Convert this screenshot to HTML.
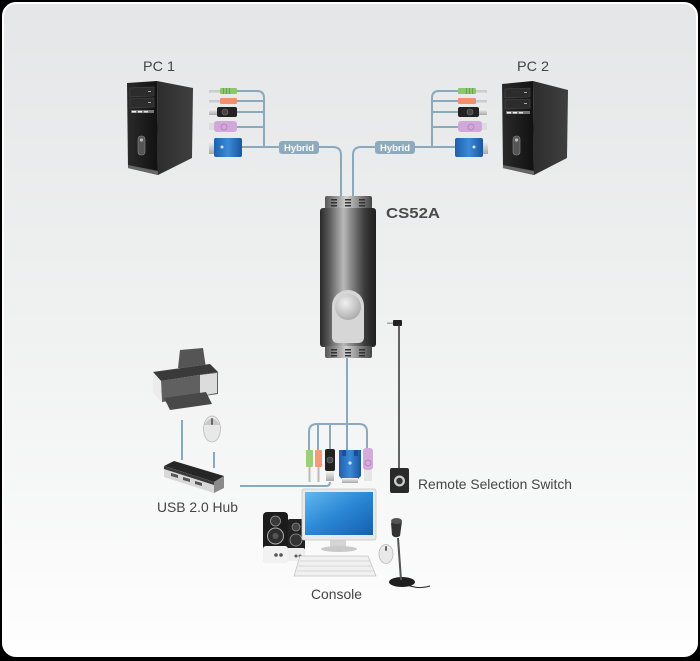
<!DOCTYPE html>
<html><head><meta charset="utf-8"><style>
html,body{margin:0;padding:0;background:#000;}
svg{display:block;}
text{font-family:"Liberation Sans",sans-serif;}
</style></head><body>
<svg width="700" height="661" viewBox="0 0 700 661" xmlns="http://www.w3.org/2000/svg">
<defs>
<linearGradient id="bg" x1="0" y1="0" x2="0" y2="1">
<stop offset="0" stop-color="#e5e6e7"/><stop offset="0.5" stop-color="#f0f1f1"/><stop offset="1" stop-color="#fefefe"/>
</linearGradient>
<linearGradient id="dev" x1="0" y1="0" x2="1" y2="0">
<stop offset="0" stop-color="#2a2a2a"/><stop offset="0.15" stop-color="#555"/><stop offset="0.42" stop-color="#b9b9b9"/><stop offset="0.55" stop-color="#8a8a8a"/><stop offset="0.8" stop-color="#3a3a3a"/><stop offset="1" stop-color="#1e1e1e"/>
</linearGradient>
<linearGradient id="cap" x1="0" y1="0" x2="1" y2="0">
<stop offset="0" stop-color="#555"/><stop offset="0.45" stop-color="#cfcfcf"/><stop offset="1" stop-color="#444"/>
</linearGradient>
<radialGradient id="btn" cx="0.4" cy="0.35" r="0.7">
<stop offset="0" stop-color="#f0f0f0"/><stop offset="1" stop-color="#a9a9a9"/>
</radialGradient>
<linearGradient id="front" x1="0" y1="0" x2="1" y2="0">
<stop offset="0" stop-color="#2a2a2a"/><stop offset="1" stop-color="#111"/>
</linearGradient>
<linearGradient id="side" x1="0" y1="0" x2="1" y2="0">
<stop offset="0" stop-color="#2d2d2d"/><stop offset="1" stop-color="#3f3f3f"/>
</linearGradient>
<linearGradient id="scr" x1="0" y1="0" x2="1" y2="1">
<stop offset="0" stop-color="#63b8ee"/><stop offset="0.5" stop-color="#2a86d4"/><stop offset="1" stop-color="#1460b0"/>
</linearGradient>
<linearGradient id="vga" x1="0" y1="0" x2="1" y2="0">
<stop offset="0" stop-color="#1f5fae"/><stop offset="0.5" stop-color="#3c8ad6"/><stop offset="1" stop-color="#1a55a0"/>
</linearGradient>
<linearGradient id="silver" x1="0" y1="0" x2="0" y2="1">
<stop offset="0" stop-color="#f4f4f4"/><stop offset="1" stop-color="#a8a8a8"/>
</linearGradient>
</defs>

<!-- frame -->
<rect x="3" y="3" width="694" height="653" rx="13" ry="13" fill="url(#bg)" stroke="#ffffff" stroke-width="2"/>

<!-- ===== cables (top) ===== -->
<g fill="none" stroke="#8aa9bd" stroke-width="2">
  <path d="M237 91 H257 Q264 91 264 98 V147"/>
  <path d="M237 101 H264"/>
  <path d="M237 112 H264"/>
  <path d="M237 127 H264"/>
  <path d="M242 147 H333 Q341 147 341 155 V197"/>
  <path d="M458 91 H439 Q432 91 432 98 V147"/>
  <path d="M458 101 H432"/>
  <path d="M458 112 H432"/>
  <path d="M458 127 H432"/>
  <path d="M455 147 H361 Q353 147 353 155 V197"/>
  <path d="M347 358 V450"/>
  <path d="M309 452 V432 Q309 424 317 424 H359 Q367 424 367 432 V452"/>
  <path d="M318 424 V452"/>
  <path d="M330 424 V452"/>
  <path d="M240 486 H326 Q330 486 330 482"/>
  <path d="M182 420 V460"/>
  <path d="M214 452 V468"/>
</g>

<!-- Hybrid labels -->
<rect x="279" y="141" width="40" height="13" rx="3" fill="#8eaabd"/>
<text x="299" y="151" font-size="9.5" font-weight="bold" fill="#fff" text-anchor="middle">Hybrid</text>
<rect x="375" y="141" width="40" height="13" rx="3" fill="#8eaabd"/>
<text x="395" y="151" font-size="9.5" font-weight="bold" fill="#fff" text-anchor="middle">Hybrid</text>

<!-- ===== PC1 ===== -->
<text x="143" y="71" font-size="14" fill="#444" textLength="32" lengthAdjust="spacingAndGlyphs">PC 1</text>
<g>
  <polygon points="157,81 193,88 192,158 158,175" fill="url(#side)"/>
  <polygon points="127,83 157,81 158,175 128,168" fill="url(#front)"/>
  <polygon points="130,88 154,87 154,96 130,97" fill="#2c2c2c" stroke="#4a4a4a" stroke-width="0.6"/>
  <polygon points="130,99 154,98 154,107 130,108" fill="#2c2c2c" stroke="#4a4a4a" stroke-width="0.6"/>
  <rect x="148" y="91" width="3" height="1" fill="#aaa"/>
  <rect x="148" y="102" width="3" height="1" fill="#aaa"/>
  <rect x="131" y="110" width="23" height="3" fill="#777"/>
  <rect x="132" y="111" width="4" height="1.5" fill="#eee"/><rect x="138" y="111" width="4" height="1.5" fill="#eee"/><rect x="144" y="111" width="4" height="1.5" fill="#ddd"/>
  <rect x="138" y="136" width="7" height="19" rx="3" fill="#555" stroke="#888" stroke-width="0.6"/>
  <circle cx="141.5" cy="140" r="1.6" fill="#bbb"/>
  <polygon points="128,165 158,171 158,175 128,168" fill="#666"/>
</g>
<g>
  <rect x="209" y="90" width="12" height="2.5" fill="#ccc"/>
  <rect x="220" y="88" width="17" height="6" rx="1" fill="#8dc66d"/>
  <rect x="223" y="88" width="1" height="6" fill="#6aa34c"/><rect x="226" y="88" width="1" height="6" fill="#6aa34c"/><rect x="229" y="88" width="1" height="6" fill="#6aa34c"/>
  <rect x="209" y="100" width="12" height="2.5" fill="#ccc"/>
  <rect x="220" y="98" width="17" height="6" rx="1" fill="#f09070"/>
  <rect x="209" y="109" width="9" height="6" fill="url(#silver)"/>
  <rect x="217" y="107" width="20" height="10" rx="2" fill="#222"/>
  <circle cx="225" cy="112" r="3" fill="#444" stroke="#777" stroke-width="0.6"/>
  <rect x="209" y="123" width="6" height="7" fill="#ddd"/>
  <rect x="214" y="121" width="23" height="11" rx="3" fill="#d2a8da"/>
  <circle cx="224" cy="127" r="3" fill="none" stroke="#b07cc0" stroke-width="0.8"/>
  <rect x="209" y="141" width="6" height="13" fill="url(#silver)"/>
  <rect x="214" y="138" width="28" height="19" rx="2" fill="url(#vga)"/>
  <circle cx="222" cy="147" r="1.5" fill="#cfe3f5"/>
</g>

<!-- ===== PC2 ===== -->
<text x="517" y="71" font-size="14" fill="#444" textLength="32" lengthAdjust="spacingAndGlyphs">PC 2</text>
<g>
  <polygon points="533,81 568,90 567,158 534,175" fill="url(#side)"/>
  <polygon points="502,84 533,81 534,175 503,168" fill="url(#front)"/>
  <polygon points="505,89 530,88 530,97 505,98" fill="#2c2c2c" stroke="#4a4a4a" stroke-width="0.6"/>
  <polygon points="505,100 530,99 530,108 505,109" fill="#2c2c2c" stroke="#4a4a4a" stroke-width="0.6"/>
  <rect x="524" y="92" width="3" height="1" fill="#aaa"/>
  <rect x="524" y="103" width="3" height="1" fill="#aaa"/>
  <rect x="506" y="111" width="24" height="3" fill="#777"/>
  <rect x="507" y="112" width="4" height="1.5" fill="#eee"/><rect x="513" y="112" width="4" height="1.5" fill="#eee"/><rect x="519" y="112" width="4" height="1.5" fill="#ddd"/>
  <rect x="513" y="136" width="7" height="19" rx="3" fill="#555" stroke="#888" stroke-width="0.6"/>
  <circle cx="516.5" cy="140" r="1.6" fill="#bbb"/>
  <polygon points="503,165 534,171 534,175 503,168" fill="#666"/>
</g>
<g>
  <rect x="475" y="90" width="12" height="2.5" fill="#ccc"/>
  <rect x="458" y="88" width="18" height="6" rx="1" fill="#8dc66d"/>
  <rect x="466" y="88" width="1" height="6" fill="#6aa34c"/><rect x="469" y="88" width="1" height="6" fill="#6aa34c"/><rect x="472" y="88" width="1" height="6" fill="#6aa34c"/>
  <rect x="475" y="100" width="12" height="2.5" fill="#ccc"/>
  <rect x="458" y="98" width="18" height="6" rx="1" fill="#f09070"/>
  <rect x="478" y="109" width="9" height="6" fill="url(#silver)"/>
  <rect x="458" y="107" width="21" height="10" rx="2" fill="#222"/>
  <circle cx="470" cy="112" r="3" fill="#444" stroke="#777" stroke-width="0.6"/>
  <rect x="481" y="123" width="6" height="7" fill="#ddd"/>
  <rect x="458" y="121" width="24" height="11" rx="3" fill="#d2a8da"/>
  <circle cx="471" cy="127" r="3" fill="none" stroke="#b07cc0" stroke-width="0.8"/>
  <rect x="482" y="141" width="6" height="13" fill="url(#silver)"/>
  <rect x="455" y="138" width="28" height="19" rx="2" fill="url(#vga)"/>
  <circle cx="474" cy="147" r="1.5" fill="#cfe3f5"/>
</g>

<!-- ===== CS52A device ===== -->
<g>
  <rect x="325" y="196" width="47" height="13" rx="2" fill="url(#cap)"/>
  <g fill="#333">
    <rect x="331" y="199" width="6" height="1.5"/><rect x="331" y="202" width="6" height="1.5"/><rect x="331" y="205" width="6" height="1.5"/>
    <rect x="345" y="199" width="6" height="1.5"/><rect x="345" y="202" width="6" height="1.5"/><rect x="345" y="205" width="6" height="1.5"/>
    <rect x="359" y="199" width="6" height="1.5"/><rect x="359" y="202" width="6" height="1.5"/><rect x="359" y="205" width="6" height="1.5"/>
  </g>
  <rect x="320" y="208" width="56" height="139" rx="3" fill="url(#dev)"/>
  <path d="M332 306 A16 16 0 0 1 364 306 V337 Q364 343 358 343 H338 Q332 343 332 337 Z" fill="#d6d6d6"/>
  <circle cx="348" cy="307" r="13" fill="url(#btn)"/>
  <rect x="325" y="346" width="47" height="12" rx="2" fill="url(#cap)"/>
  <g fill="#333">
    <rect x="331" y="349" width="6" height="1.5"/><rect x="331" y="352" width="6" height="1.5"/><rect x="331" y="355" width="6" height="1.5"/>
    <rect x="345" y="349" width="6" height="1.5"/><rect x="345" y="352" width="6" height="1.5"/><rect x="345" y="355" width="6" height="1.5"/>
    <rect x="359" y="349" width="6" height="1.5"/><rect x="359" y="352" width="6" height="1.5"/><rect x="359" y="355" width="6" height="1.5"/>
  </g>
</g>
<text x="386" y="218" font-size="15" font-weight="bold" fill="#4a4a4a" textLength="54" lengthAdjust="spacingAndGlyphs">CS52A</text>

<!-- Remote switch -->
<g>
  <rect x="387" y="322.5" width="7" height="1.5" fill="#aaa"/>
  <rect x="393" y="320" width="9" height="6" rx="1" fill="#222"/>
  <line x1="399" y1="324" x2="399" y2="468" stroke="#333" stroke-width="1.5"/>
  <rect x="390" y="468" width="19" height="25" rx="2" fill="#2a2a2a"/>
  <circle cx="399.5" cy="481" r="5.5" fill="#ccc"/>
  <circle cx="399.5" cy="481" r="3.2" fill="#333"/>
</g>
<text x="418" y="489" font-size="14" fill="#444" textLength="154" lengthAdjust="spacingAndGlyphs">Remote Selection Switch</text>

<!-- Bottom connectors -->
<g>
  <rect x="306" y="450" width="7" height="17" rx="1" fill="#9bd07b"/>
  <rect x="308.5" y="467" width="2" height="15" fill="#bbb"/>
  <rect x="315" y="450" width="7" height="17" rx="1" fill="#f39a78"/>
  <rect x="317.5" y="467" width="2" height="15" fill="#bbb"/>
  <rect x="325" y="449" width="10" height="22" rx="2" fill="#222"/>
  <circle cx="330" cy="460" r="3" fill="#444" stroke="#777" stroke-width="0.6"/>
  <rect x="326" y="471" width="8" height="10" fill="url(#silver)"/>
  <path d="M339 450 H361 V476 L357 480 H343 L339 476 Z" fill="url(#vga)"/>
  <rect x="342" y="450" width="4" height="6" fill="#1a4f96"/><rect x="354" y="450" width="4" height="6" fill="#1a4f96"/>
  <circle cx="350" cy="463" r="1.6" fill="#cfe3f5"/>
  <rect x="342" y="478" width="16" height="5" fill="url(#silver)"/>
  <rect x="363" y="448" width="10" height="22" rx="3" fill="#d5abdc"/>
  <circle cx="368" cy="463" r="3" fill="none" stroke="#b07cc0" stroke-width="0.8"/>
  <rect x="364" y="470" width="8" height="11" fill="#e6e6e6"/>
</g>

<!-- Printer -->
<g>
  <polygon points="180,350 203,348 206,368 178,368" fill="#555"/>
  <polygon points="153,372 210,364 218,372 218,394 162,402 153,392" fill="#d5d5d5"/>
  <polygon points="153,372 210,364 218,372 161,381" fill="#3a3a3a"/>
  <polygon points="161,381 218,372 218,394 162,402" fill="#606060"/>
  <polygon points="153,372 161,381 162,402 153,392" fill="#ececec"/>
  <polygon points="200,375 217,373 217,393 200,396" fill="#dcdcdc"/>
  <polygon points="164,398 206,392 212,404 170,410" fill="#484848"/>
</g>
<!-- small mouse -->
<g>
  <ellipse cx="212" cy="429" rx="8.5" ry="13" fill="#e8e8e8" stroke="#bbb" stroke-width="0.8"/>
  <path d="M204 425 Q212 412 220 425" fill="#c9c9c9"/>
  <rect x="211" y="418" width="2" height="7" rx="1" fill="#666"/>
</g>
<!-- USB hub -->
<g>
  <polygon points="164,466 174,461 224,476 214,482" fill="#262626"/>
  <polygon points="164,466 214,482 214,493 164,477" fill="#d8d8d8"/>
  <polygon points="214,482 224,476 224,488 214,493" fill="#8a8a8a"/>
  <polygon points="164,466 214,482 214,485 164,469" fill="#3a3a3a"/>
  <polygon points="171,473 178,475 178,478 171,476" fill="#555"/>
  <polygon points="183,477 190,479 190,482 183,480" fill="#555"/>
  <polygon points="195,481 202,483 202,486 195,484" fill="#555"/>
</g>
<text x="157" y="512" font-size="14" fill="#444" textLength="81" lengthAdjust="spacingAndGlyphs">USB 2.0 Hub</text>

<!-- Console -->
<g>
  <rect x="287" y="519" width="18" height="42" rx="3" fill="#222"/>
  <rect x="287" y="548" width="18" height="13" rx="2" fill="#eee"/>
  <circle cx="296" cy="527" r="4" fill="#444" stroke="#888" stroke-width="0.8"/>
  <circle cx="296" cy="540" r="6" fill="#333" stroke="#999" stroke-width="0.8"/>
  <rect x="263" y="512" width="25" height="51" rx="4" fill="#1c1c1c"/>
  <rect x="263" y="546" width="25" height="17" rx="3" fill="#f2f2f2"/>
  <circle cx="275.5" cy="521" r="5" fill="#3a3a3a" stroke="#999" stroke-width="0.8"/>
  <circle cx="275.5" cy="536" r="8" fill="#2e2e2e" stroke="#aaa" stroke-width="1"/>
  <circle cx="275.5" cy="536" r="3" fill="#555"/>
  <circle cx="276" cy="555" r="1.8" fill="#555"/><circle cx="281" cy="555" r="1.8" fill="#555"/>
  <circle cx="296" cy="556" r="1.5" fill="#555"/><circle cx="300" cy="556" r="1.5" fill="#555"/>
  <rect x="330" y="538" width="16" height="10" fill="#d4d4d4"/>
  <ellipse cx="339" cy="549" rx="18" ry="3" fill="#c9c9c9"/>
  <rect x="302" y="489" width="74" height="51" rx="2" fill="#e9e9e9" stroke="#c8c8c8" stroke-width="0.8"/>
  <rect x="305" y="492" width="68" height="43" fill="url(#scr)"/>
  <polygon points="300,556 368,556 376,576 294,576" fill="#f0f0f0" stroke="#c4c4c4" stroke-width="0.8"/>
  <g stroke="#cfcfcf" stroke-width="0.7">
    <line x1="300" y1="561" x2="370" y2="561"/><line x1="298" y1="566" x2="372" y2="566"/><line x1="297" y1="571" x2="374" y2="571"/>
  </g>
  <ellipse cx="386" cy="554" rx="7" ry="9.5" fill="#e9e9e9" stroke="#bbb" stroke-width="0.8"/>
  <rect x="385" y="546" width="2" height="5" rx="1" fill="#666"/>
  <path d="M405 584 Q418 590 430 586" fill="none" stroke="#222" stroke-width="1"/>
  <ellipse cx="402" cy="582" rx="13" ry="5" fill="#1f1f1f"/>
  <line x1="398" y1="538" x2="401" y2="580" stroke="#555" stroke-width="2"/>
  <path d="M391 523 Q396 517 402 521 L400 536 Q395 539 392 535 Z" fill="#333"/>
  <ellipse cx="396.5" cy="521" rx="5.5" ry="3" fill="#555"/>
</g>
<text x="311" y="599" font-size="14" fill="#444" textLength="51" lengthAdjust="spacingAndGlyphs">Console</text>
</svg>
</body></html>
